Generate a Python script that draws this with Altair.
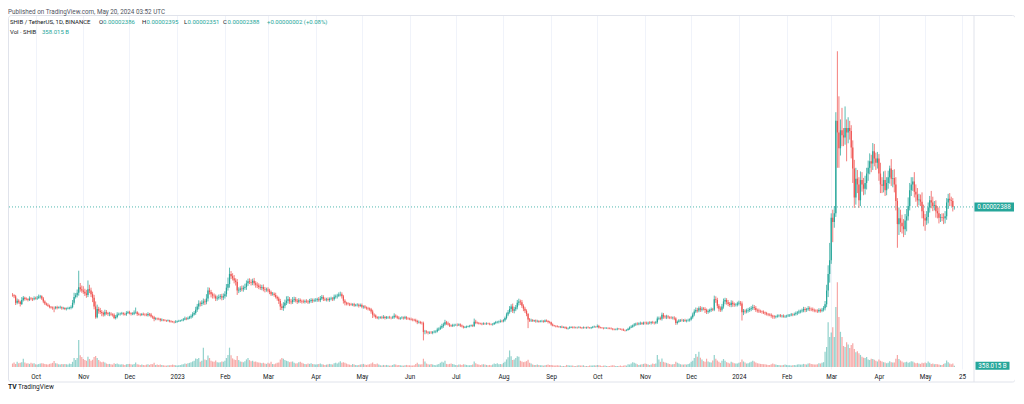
import altair as alt
import pandas as pd

# SHIB / TetherUS, 1D, BINANCE  -- daily candles 2022-09-16 .. 2024-05-20
# prices in units of 1e-8 USDT, volume in billions of SHIB
FIRST_OPEN = 1170

close_2022_09 = [1165, 1150, 1060, 1090, 1075, 1045, 1100, 1130, 1115, 1110, 1100, 1120, 1115, 1110, 1125]
close_2022_10 = [1120, 1130, 1145, 1150, 1120, 1080, 1050, 1035, 1020, 1005, 995, 990, 985, 1000, 990, 995, 1000, 985, 990, 975,
                 980, 985, 990, 1000, 1060, 1140, 1165, 1200, 1275, 1250, 1230]
close_2022_11 = [1215, 1190, 1170, 1250, 1230, 1180, 1130, 1010, 860, 975, 950, 935, 920, 900, 930, 915, 905, 910, 900, 895,
                 850, 865, 900, 905, 910, 915, 905, 900, 920, 930]
close_2022_12 = [915, 905, 910, 925, 930, 905, 900, 895, 905, 900, 895, 890, 905, 900, 870, 860, 835, 845, 840, 835,
                 820, 825, 820, 815, 810, 815, 805, 800, 795, 790, 800]
close_2023_01 = [805, 810, 815, 820, 830, 845, 840, 850, 860, 875, 900, 920, 965, 1010, 1050, 1045, 1060, 1080, 1070, 1120,
                 1230, 1210, 1180, 1160, 1150, 1120, 1130, 1140, 1150, 1135, 1150]
close_2023_02 = [1180, 1270, 1320, 1460, 1430, 1400, 1370, 1350, 1230, 1240, 1260, 1250, 1270, 1280, 1330, 1360, 1350, 1340, 1365, 1330,
                 1310, 1300, 1280, 1270, 1280, 1250, 1240, 1245]
close_2023_03 = [1230, 1210, 1180, 1185, 1170, 1140, 1120, 1085, 1010, 990, 1020, 1060, 1090, 1110, 1080, 1070, 1100, 1110, 1090, 1075,
                 1095, 1085, 1080, 1075, 1085, 1080, 1070, 1085, 1100, 1090, 1095]
close_2023_04 = [1100, 1110, 1095, 1120, 1140, 1115, 1105, 1110, 1100, 1115, 1120, 1110, 1145, 1150, 1160, 1175, 1180, 1150, 1090, 1060,
                 1050, 1045, 1040, 1035, 1040, 1025, 1030, 1035, 1020, 1030]
close_2023_05 = [1005, 1010, 995, 985, 980, 970, 940, 895, 885, 860, 850, 855, 860, 855, 865, 850, 858, 860, 855, 852,
                 860, 880, 870, 855, 845, 850, 855, 848, 860, 845, 840]
close_2023_06 = [835, 830, 825, 820, 810, 790, 795, 785, 780, 655, 660, 655, 648, 650, 645, 655, 660, 665, 690, 700,
                 720, 740, 760, 790, 775, 760, 745, 740, 750, 755]
close_2023_07 = [755, 750, 760, 745, 735, 720, 725, 730, 735, 740, 745, 740, 800, 785, 780, 775, 770, 765, 775, 770,
                 775, 770, 765, 760, 765, 780, 790, 795, 800, 810, 805]
close_2023_08 = [820, 850, 900, 930, 975, 1010, 950, 970, 1000, 1060, 1080, 1070, 1020, 980, 950, 905, 830, 815, 820, 810,
                 815, 805, 810, 800, 805, 810, 800, 815, 810, 795, 790]
close_2023_09 = [760, 745, 740, 735, 730, 725, 730, 720, 725, 715, 705, 710, 720, 725, 720, 715, 720, 718, 722, 715,
                 712, 718, 715, 720, 715, 712, 718, 725, 730, 728]
close_2023_10 = [740, 720, 715, 712, 708, 710, 712, 710, 705, 700, 695, 690, 695, 700, 698, 695, 690, 680, 678, 685,
                 700, 720, 730, 745, 760, 770, 765, 775, 780, 770, 785]
close_2023_11 = [780, 775, 785, 780, 790, 785, 780, 790, 845, 850, 840, 895, 870, 860, 870, 860, 855, 850, 855, 845,
                 780, 800, 815, 820, 815, 820, 810, 815, 820, 830]
close_2023_12 = [860, 900, 940, 960, 955, 985, 965, 980, 975, 960, 935, 945, 960, 970, 965, 1110, 1100, 1020, 980, 965,
                 1010, 1080, 1100, 1070, 1045, 1030, 1060, 1040, 1030, 1035, 1050]
close_2024_01 = [1060, 1050, 930, 950, 940, 955, 960, 975, 985, 1000, 990, 960, 955, 945, 940, 935, 925, 915, 905, 900,
                 895, 880, 870, 865, 870, 880, 885, 875, 880, 870, 875]
close_2024_02 = [880, 885, 890, 900, 895, 905, 915, 925, 940, 945, 955, 975, 960, 970, 985, 975, 970, 960, 955, 950,
                 945, 960, 950, 965, 985, 1040, 1230, 1460, 1650]
close_2024_03 = [2240, 2180, 2300, 3580, 3420, 3200, 3450, 3380, 3350, 3480, 3420, 3480, 3440, 3210, 2920, 2520, 2780, 2700, 2480, 2760,
                 2700, 2640, 2720, 2850, 2930, 3020, 2990, 3160, 3060, 3000, 3060]
close_2024_04 = [2850, 2700, 2680, 2760, 2620, 2720, 2800, 2920, 2780, 2790, 2700, 2470, 2150, 2230, 2170, 2120, 2080, 2200, 2260, 2400,
                 2620, 2700, 2740, 2600, 2560, 2480, 2490, 2460, 2330, 2230]
close_2024_05 = [2200, 2250, 2380, 2480, 2450, 2400, 2410, 2330, 2300, 2240, 2250, 2240, 2230, 2260, 2450, 2500, 2480, 2470, 2386, 2388]

# upper wick above max(open, close) and lower wick below min(open, close), same units
upw_2022_09 = [25, 15, 20, 30, 20, 15, 40, 25, 15, 20, 15, 30, 20, 15, 25]
low_2022_09 = [20, 25, 30, 20, 25, 35, 15, 20, 25, 15, 20, 15, 20, 25, 15]
upw_2022_10 = [20, 25, 30, 20, 15, 20, 15, 15, 20, 15, 10, 15, 20, 15, 20, 15, 20, 10, 15, 10, 15, 20, 15, 25, 40, 60, 30, 45, 230, 60, 50]
low_2022_10 = [15, 20, 15, 25, 20, 25, 20, 15, 15, 20, 15, 25, 55, 15, 20, 10, 15, 20, 15, 15, 20, 10, 15, 20, 15, 25, 20, 30, 40, 35, 30]
upw_2022_11 = [60, 40, 50, 120, 60, 40, 35, 40, 70, 60, 30, 40, 25, 20, 35, 30, 20, 25, 20, 15, 20, 25, 30, 20, 15, 20, 15, 20, 25, 20]
low_2022_11 = [30, 35, 40, 30, 35, 40, 60, 40, 20, 15, 40, 30, 45, 30, 25, 20, 25, 30, 20, 25, 15, 20, 20, 15, 20, 15, 20, 15, 20, 15]
upw_2022_12 = [20, 15, 20, 30, 65, 15, 20, 15, 15, 20, 15, 20, 25, 15, 20, 15, 20, 15, 10, 15, 15, 20, 10, 15, 10, 15, 10, 15, 10, 15, 20]
low_2022_12 = [15, 20, 15, 20, 15, 25, 15, 20, 15, 15, 20, 15, 20, 25, 15, 20, 30, 15, 20, 15, 20, 15, 15, 10, 15, 10, 15, 15, 10, 15, 10]
upw_2023_01 = [10, 15, 10, 15, 20, 25, 15, 20, 20, 25, 30, 25, 40, 35, 45, 30, 35, 40, 30, 60, 45, 40, 30, 25, 30, 25, 30, 35, 30, 35, 40]
low_2023_01 = [15, 10, 15, 10, 15, 10, 20, 15, 15, 20, 20, 15, 25, 30, 40, 35, 30, 25, 40, 30, 40, 35, 45, 40, 30, 35, 30, 25, 30, 40, 35]
upw_2023_02 = [40, 50, 90, 87, 40, 40, 45, 30, 40, 35, 30, 40, 30, 45, 40, 35, 40, 35, 30, 40, 30, 35, 30, 35, 30, 35, 30, 25]
low_2023_02 = [30, 35, 40, 50, 40, 30, 40, 50, 60, 35, 30, 30, 35, 30, 40, 35, 30, 40, 35, 30, 40, 35, 30, 30, 35, 30, 35, 25]
upw_2023_03 = [30, 25, 20, 25, 20, 30, 20, 25, 30, 40, 50, 45, 60, 45, 30, 35, 40, 35, 30, 25, 30, 25, 20, 25, 20, 25, 20, 30, 25, 20, 25]
low_2023_03 = [25, 30, 25, 20, 25, 20, 30, 40, 50, 30, 40, 35, 30, 40, 35, 30, 25, 30, 25, 30, 20, 25, 30, 20, 25, 20, 25, 20, 25, 30, 20]
upw_2023_04 = [25, 20, 30, 35, 30, 25, 20, 20, 25, 20, 25, 20, 30, 25, 25, 30, 35, 25, 20, 20, 15, 20, 15, 20, 15, 20, 15, 20, 15, 20]
low_2023_04 = [20, 25, 20, 25, 20, 30, 20, 25, 20, 25, 20, 25, 20, 25, 30, 20, 25, 30, 40, 35, 25, 20, 25, 15, 20, 20, 15, 20, 25, 15]
upw_2023_05 = [20, 15, 20, 15, 20, 15, 20, 25, 20, 15, 15, 20, 15, 20, 25, 15, 20, 15, 20, 15, 20, 35, 20, 15, 20, 15, 20, 15, 20, 15, 15]
low_2023_05 = [20, 25, 15, 20, 25, 20, 30, 45, 25, 20, 15, 20, 15, 20, 15, 20, 15, 20, 15, 20, 15, 20, 15, 20, 15, 20, 15, 20, 15, 20, 15]
upw_2023_06 = [15, 20, 15, 15, 20, 15, 20, 15, 15, 20, 25, 20, 15, 15, 20, 15, 20, 15, 25, 20, 25, 30, 25, 35, 20, 25, 20, 15, 20, 15]
low_2023_06 = [15, 15, 20, 15, 20, 25, 15, 20, 20, 115, 30, 20, 25, 20, 15, 20, 15, 20, 15, 20, 15, 20, 25, 15, 20, 15, 20, 15, 15, 20]
upw_2023_07 = [15, 20, 15, 15, 15, 10, 15, 15, 10, 15, 15, 15, 42, 25, 15, 15, 10, 15, 15, 10, 15, 10, 15, 10, 15, 15, 20, 15, 15, 20, 15]
low_2023_07 = [15, 15, 10, 20, 15, 15, 10, 15, 10, 15, 10, 15, 15, 20, 15, 15, 10, 15, 10, 15, 15, 10, 15, 10, 15, 10, 15, 15, 20, 15, 15]
upw_2023_08 = [15, 20, 25, 30, 40, 30, 40, 35, 30, 40, 38, 25, 30, 20, 25, 20, 15, 20, 20, 15, 10, 15, 15, 10, 15, 15, 10, 15, 15, 10, 15]
low_2023_08 = [15, 20, 20, 25, 20, 40, 30, 35, 25, 30, 35, 40, 30, 35, 30, 30, 120, 20, 20, 15, 15, 20, 15, 15, 10, 15, 15, 10, 15, 20, 15]
upw_2023_09 = [10, 15, 10, 10, 15, 10, 10, 15, 10, 10, 15, 10, 15, 10, 10, 15, 10, 10, 15, 10, 10, 15, 10, 10, 15, 10, 10, 15, 15, 10]
low_2023_09 = [15, 10, 10, 15, 10, 10, 15, 10, 10, 15, 10, 15, 10, 10, 15, 10, 10, 15, 10, 10, 15, 10, 10, 15, 10, 10, 15, 10, 10, 15]
upw_2023_10 = [20, 15, 10, 10, 10, 15, 10, 10, 10, 15, 10, 10, 10, 15, 10, 10, 10, 15, 10, 10, 15, 15, 20, 15, 20, 15, 20, 15, 20, 15, 15]
low_2023_10 = [10, 15, 10, 10, 15, 10, 10, 15, 10, 10, 15, 10, 10, 15, 10, 10, 15, 10, 15, 10, 10, 15, 10, 15, 15, 20, 15, 15, 20, 15, 15]
upw_2023_11 = [15, 20, 15, 20, 15, 20, 15, 20, 25, 20, 20, 30, 25, 20, 25, 20, 15, 20, 15, 20, 15, 15, 20, 15, 20, 15, 20, 15, 20, 15]
low_2023_11 = [20, 15, 20, 15, 20, 15, 20, 15, 20, 25, 20, 25, 30, 20, 25, 20, 20, 15, 20, 25, 25, 20, 15, 20, 15, 20, 15, 20, 15, 20]
upw_2023_12 = [20, 25, 30, 35, 30, 25, 30, 25, 20, 25, 20, 25, 20, 25, 20, 50, 40, 30, 25, 30, 35, 40, 30, 25, 30, 25, 35, 30, 25, 20, 25]
low_2023_12 = [15, 20, 25, 20, 30, 25, 30, 25, 20, 40, 30, 25, 20, 25, 20, 20, 40, 35, 40, 30, 25, 30, 40, 35, 30, 25, 30, 35, 25, 20, 25]
upw_2024_01 = [30, 25, 30, 25, 20, 25, 30, 25, 30, 35, 30, 25, 20, 25, 20, 15, 20, 15, 20, 15, 15, 20, 15, 20, 15, 20, 15, 20, 15, 20, 15]
low_2024_01 = [25, 30, 115, 40, 30, 25, 30, 25, 30, 25, 30, 25, 30, 25, 20, 25, 20, 25, 20, 25, 20, 25, 30, 25, 20, 15, 20, 15, 20, 15, 20]
upw_2024_02 = [15, 20, 15, 20, 15, 20, 25, 20, 25, 20, 25, 30, 25, 20, 30, 25, 20, 25, 20, 15, 20, 25, 20, 25, 30, 45, 80, 120, 240]
low_2024_02 = [20, 15, 20, 15, 20, 15, 20, 25, 20, 25, 20, 25, 30, 25, 20, 30, 25, 20, 25, 20, 25, 20, 25, 20, 25, 30, 40, 90, 120]
upw_2024_03 = [60, 110, 100, 120, 964, 500, 150, 310, 100, 300, 120, 150, 100, 80, 100, 120, 150, 120, 100, 120,
               110, 90, 100, 80, 100, 110, 90, 113, 100, 80, 90]
low_2024_03 = [50, 280, 80, 50, 490, 270, 100, 150, 120, 100, 400, 150, 120, 150, 200, 145, 100, 120, 105, 80,
               100, 90, 80, 90, 100, 90, 120, 90, 110, 100, 80]
upw_2024_04 = [60, 150, 100, 120, 130, 80, 90, 40, 130, 110, 120, 100, 40, 150, 120, 110, 100, 90, 100, 120,
               100, 100, 60, 130, 100, 90, 80, 70, 130, 90]
low_2024_04 = [100, 120, 100, 90, 80, 70, 80, 90, 100, 120, 110, 130, 327, 150, 130, 100, 110, 80, 150, 60,
               60, 80, 90, 80, 100, 90, 70, 60, 100, 110]
upw_2024_05 = [60, 80, 70, 60, 130, 80, 60, 70, 70, 80, 40, 50, 60, 70, 60, 70, 80, 50, 40, 7]
low_2024_05 = [142, 60, 90, 70, 80, 70, 60, 90, 70, 80, 60, 50, 80, 70, 50, 90, 80, 70, 60, 35]

# volume, billions of SHIB
vol_2022_09 = [1000, 1300, 900, 1500, 1100, 1200, 1400, 2400, 1300, 1000, 1100, 900, 1200, 1000, 1100]
vol_2022_10 = [800, 700, 900, 1000, 1100, 1000, 900, 800, 700, 900, 1000, 1200, 1750, 1100, 1000, 800, 700, 900, 800, 900,
               800, 700, 1000, 900, 1500, 2600, 2000, 2600, 7800, 3400, 2900]
vol_2022_11 = [2300, 2000, 1800, 3000, 2300, 1800, 2100, 2900, 3200, 2600, 2000, 1600, 1400, 1500, 1300, 1000, 900, 900, 800, 700,
               1100, 900, 1000, 800, 700, 800, 700, 600, 800, 900]
vol_2022_12 = [900, 800, 700, 900, 1300, 800, 700, 600, 700, 600, 500, 700, 800, 600, 900, 800, 1200, 600, 700, 600,
               700, 600, 500, 400, 400, 500, 500, 600, 700, 600, 500]
vol_2023_01 = [400, 500, 600, 700, 800, 1000, 900, 1100, 1200, 1400, 1600, 1800, 2500, 2300, 2600, 1500, 1800, 5600, 2200, 2000,
               3300, 2600, 1800, 1600, 1500, 1900, 1400, 1300, 1400, 1600, 1500]
vol_2023_02 = [1800, 2600, 3500, 5600, 3400, 2500, 2200, 2000, 3200, 2000, 1600, 1500, 1400, 1700, 2200, 2600, 2000, 1700, 1800, 1500,
               1600, 1400, 1300, 1200, 1100, 1200, 1000, 900]
vol_2023_03 = [1200, 1000, 1500, 900, 800, 1000, 1200, 1300, 2200, 2600, 2400, 2000, 1800, 1700, 1400, 1500, 1600, 1200, 1000, 1100,
               1400, 1500, 1200, 1000, 900, 800, 1000, 900, 1100, 900, 800]
vol_2023_04 = [700, 800, 900, 1000, 800, 700, 600, 700, 800, 900, 800, 700, 1100, 1200, 1000, 1300, 1700, 1200, 1400, 1200,
               1000, 800, 700, 600, 900, 700, 600, 500, 600, 700]
vol_2023_05 = [800, 900, 700, 600, 700, 800, 1000, 1300, 900, 800, 1000, 700, 500, 400, 600, 500, 600, 500, 400, 400,
               600, 800, 700, 500, 600, 500, 400, 400, 500, 600, 500]
vol_2023_06 = [500, 400, 400, 500, 900, 1200, 800, 700, 800, 2400, 1600, 1000, 800, 700, 900, 700, 600, 500, 700, 900,
               1200, 1500, 1300, 1800, 900, 800, 900, 1000, 900, 700]
vol_2023_07 = [600, 500, 700, 700, 600, 800, 700, 600, 500, 500, 600, 700, 1600, 1100, 800, 700, 600, 700, 800, 700,
               600, 500, 600, 500, 700, 1000, 900, 1100, 800, 900, 800]
vol_2023_08 = [1200, 1500, 2200, 2800, 4800, 3100, 2000, 2200, 2600, 3100, 3000, 1800, 1600, 1400, 1500, 1700, 2100, 1200, 1000, 700,
               600, 600, 700, 600, 500, 500, 400, 500, 600, 700, 600]
vol_2023_09 = [600, 500, 400, 400, 500, 400, 400, 300, 300, 300, 600, 500, 400, 400, 400, 300, 300, 400, 500, 400,
               400, 500, 300, 300, 300, 400, 400, 400, 500, 400]
vol_2023_10 = [600, 500, 400, 300, 400, 400, 300, 300, 300, 400, 500, 400, 300, 300, 300, 400, 300, 400, 500, 400,
               800, 700, 1000, 1400, 1200, 1000, 800, 600, 700, 800, 900]
vol_2023_11 = [1000, 900, 700, 600, 700, 1000, 900, 1000, 3500, 2200, 1500, 2500, 1500, 1300, 1200, 1000, 900, 700, 800, 900,
               1500, 1200, 1000, 800, 700, 700, 800, 700, 900, 1000]
vol_2023_12 = [1500, 1800, 2600, 3800, 3000, 4400, 2700, 2200, 1700, 1500, 2400, 1600, 1400, 1300, 1900, 3500, 2400, 1900, 1500, 1200,
               1800, 2300, 1800, 1400, 1200, 1000, 1500, 1300, 1100, 1000, 1000]
vol_2024_01 = [1200, 1400, 2200, 1600, 1300, 1000, 1100, 1300, 1500, 1800, 1600, 1300, 1100, 1000, 900, 900, 800, 800, 700, 600,
               600, 800, 1000, 800, 700, 600, 600, 500, 500, 600, 700]
vol_2024_02 = [600, 500, 500, 400, 500, 600, 500, 700, 800, 700, 700, 900, 800, 700, 1000, 1100, 900, 800, 700, 700,
               800, 1100, 1000, 1200, 1400, 4400, 5800, 13000, 8700]
vol_2024_03 = [10000, 11500, 8700, 17400, 24600, 14500, 10200, 8700, 6100, 5800, 7200, 6500, 5500, 6400, 6900, 5200, 4300, 4600, 4000, 3500,
               3000, 2700, 2600, 2900, 2200, 2000, 2400, 2300, 2100, 1800, 1600]
vol_2024_04 = [2200, 1800, 1600, 1400, 1300, 1100, 1200, 1700, 1400, 1300, 1300, 2400, 3500, 2300, 1900, 1600, 1300, 1400, 1500, 1200,
               1400, 1700, 1600, 1300, 1100, 1200, 1000, 900, 1200, 1100]
vol_2024_05 = [1300, 1100, 1600, 1200, 900, 1000, 800, 900, 800, 700, 600, 600, 900, 1100, 1900, 1400, 1000, 800, 1000, 358.015]

price_ticks = [500, 1000, 1500, 2000, 2500, 3000, 3500, 4000, 4500, 5000]

# ---------------------------------------------------------------------------
keys = ["2022_09", "2022_10", "2022_11", "2022_12", "2023_01", "2023_02", "2023_03", "2023_04",
        "2023_05", "2023_06", "2023_07", "2023_08", "2023_09", "2023_10", "2023_11", "2023_12",
        "2024_01", "2024_02", "2024_03", "2024_04", "2024_05"]
g = globals()
closes, upw, loww, vols = [], [], [], []
for k in keys:
    c, u, l, v = g["close_" + k], g["upw_" + k], g["low_" + k], g["vol_" + k]
    assert len(c) == len(u) == len(l) == len(v), (k, len(c), len(u), len(l), len(v))
    closes += c; upw += u; loww += l; vols += v
n = len(closes)
assert n == 613, n

SC = 1e-8
opens = [FIRST_OPEN] + closes[:-1]
dates = pd.date_range("2022-09-16", periods=n, freq="D").strftime("%Y-%m-%dT00:00:00Z")
df = pd.DataFrame({
    "date": list(dates),
    "open": [o * SC for o in opens],
    "close": [c * SC for c in closes],
    "high": [(max(o, c) + u) * SC for o, c, u in zip(opens, closes, upw)],
    "low": [(min(o, c) - l) * SC for o, c, l in zip(opens, closes, loww)],
    "volume": vols,
    "dir": ["up" if c >= o else "down" for o, c in zip(opens, closes)],
})

UP, DOWN = "#26a69a", "#ef5350"
TXT = "#131722"
GRID = "#f0f3fa"
FONT = "Roboto"
FS = 6.3
LFS = 6.0
W, H = 965, 354

x_scale = alt.Scale(type="utc",
                    domain=[alt.DateTime(year=2022, month=9, date=16, hours=7, minutes=12, utc=True),
                            alt.DateTime(year=2024, month=5, date=28, hours=21, minutes=7, utc=True)])
x_vals = [alt.DateTime(year=y, month=m, date=1, utc=True) for (y, m) in
          [(2022, 10), (2022, 11), (2022, 12), (2023, 1), (2023, 2), (2023, 3), (2023, 4), (2023, 5), (2023, 6),
           (2023, 7), (2023, 8), (2023, 9), (2023, 10), (2023, 11), (2023, 12), (2024, 1), (2024, 2), (2024, 3),
           (2024, 4), (2024, 5)]] + [alt.DateTime(year=2024, month=5, date=25, utc=True)]
x_axis = alt.Axis(values=x_vals, title=None, domain=False, ticks=False, grid=True, gridColor=GRID,
                  labelFont=FONT, labelFontSize=FS, labelColor=TXT, labelPadding=4.5,
                  labelExpr="utcmonth(datum.value)==0 ? utcFormat(datum.value,'%Y') : "
                            "(utcdate(datum.value)==1 ? utcFormat(datum.value,'%b') : utcFormat(datum.value,'%d'))")
x_enc = alt.X("date:T", scale=x_scale, axis=x_axis)

price_scale = alt.Scale(domain=[144 * SC, 5046 * SC], zero=False, nice=False)
price_axis = alt.Axis(orient="right", values=[v * SC for v in price_ticks], title=None, domain=False, ticks=False,
                      grid=True, gridColor=GRID, labelFont=FONT, labelFontSize=FS, labelColor=TXT, labelPadding=6,
                      labelExpr="format(datum.value, '.8f')")
color_enc = alt.Color("dir:N", scale=alt.Scale(domain=["up", "down"], range=[UP, DOWN]), legend=None)

base = alt.Chart(df)
wicks = base.mark_rule(strokeWidth=0.75, clip=True).encode(
    x=x_enc, y=alt.Y("low:Q", scale=price_scale, axis=price_axis), y2="high:Q", color=color_enc)
bodies = base.mark_bar(size=1.25, clip=True).encode(
    x="date:T", y=alt.Y("open:Q", scale=price_scale, axis=None), y2="close:Q", color=color_enc)

last = pd.DataFrame({"p": [closes[-1] * SC], "v": [vols[-1]]})
price_line = alt.Chart(last).mark_rule(strokeDash=[1, 2], color=UP, strokeWidth=0.8).encode(
    y=alt.Y("p:Q", scale=price_scale, axis=None))
price_box = alt.Chart(last).mark_point(shape="M -1 -0.225 L 1 -0.225 L 1 0.225 L -1 0.225 Z", size=1600,
                                       filled=True, opacity=1, color=UP, strokeWidth=0).encode(
    x=alt.value(986), y=alt.Y("p:Q", scale=price_scale, axis=None))
price_txt = alt.Chart(last).mark_text(text="0.00002388", color="white", font=FONT, fontSize=FS,
                                      align="center", baseline="middle").encode(
    x=alt.value(986), y=alt.Y("p:Q", scale=price_scale, axis=None))
price_group = alt.layer(wicks, bodies, price_line, price_box, price_txt)

vol_scale = alt.Scale(domain=[-580, 102080], zero=False, nice=False)
vol_bars = base.mark_bar(size=1.2, opacity=0.5, clip=True).encode(
    x="date:T", y=alt.Y("volume:Q", scale=vol_scale, axis=None), y2=alt.datum(0), color=color_enc)
vol_box = alt.Chart(last).mark_point(shape="M -1 -0.235 L 1 -0.235 L 1 0.235 L -1 0.235 Z", size=1156,
                                     filled=True, opacity=1, color=UP, strokeWidth=0).encode(
    x=alt.value(984.5), y=alt.Y("v:Q", scale=vol_scale, axis=None))
vol_txt = alt.Chart(last).mark_text(text="358.015 B", color="white", font=FONT, fontSize=FS,
                                    align="center", baseline="middle").encode(
    x=alt.value(984.5), y=alt.Y("v:Q", scale=vol_scale, axis=None))
vol_group = alt.layer(vol_bars, vol_box, vol_txt)

one = pd.DataFrame({"k": [0]})


def txt(s, x, y, color=TXT, size=FS, weight="normal", baseline="middle"):
    return alt.Chart(one).mark_text(text=s, align="left", baseline=baseline, font=FONT, fontSize=size,
                                    color=color, fontWeight=weight).encode(x=alt.value(x), y=alt.value(y))


frame = alt.Chart(one).mark_rect(fillOpacity=0, stroke="#e0e3eb", strokeWidth=1, cornerRadius=3).encode(
    x=alt.value(0.5), x2=alt.value(1007.5), y=alt.value(0.5), y2=alt.value(367))
sep = alt.Chart(one).mark_rule(color="#e0e3eb", strokeWidth=1).encode(
    x=alt.value(966), y=alt.value(0.5), y2=alt.value(367))

texts = [
    txt("Published on TradingView.com, May 20, 2024 03:52 UTC", 0, -3.5, color="#50535e"),
    txt("SHIB / TetherUS, 1D, BINANCE", 2, 7, size=LFS),
    txt("O", 91, 7, size=LFS), txt("0.00002386", 95, 7, color=UP, size=LFS),
    txt("H", 134, 7, size=LFS), txt("0.00002395", 138.5, 7, color=UP, size=LFS),
    txt("L", 176, 7, size=LFS), txt("0.00002351", 179.5, 7, color=UP, size=LFS),
    txt("C", 215, 7, size=LFS), txt("0.00002388", 219.5, 7, color=UP, size=LFS),
    txt("+0.00000002 (+0.08%)", 259, 7, color=UP, size=LFS),
    txt("Vol · SHIB", 2, 17, size=LFS), txt("358.015 B", 34, 17, color=UP, size=LFS),
    txt("TV", 0, 374, size=6.8, weight="bold", baseline="alphabetic"),
    txt("TradingView", 10, 374, size=6.5, baseline="alphabetic"),
]

chart = alt.layer(vol_group, price_group, frame, sep, *texts).resolve_scale(y="independent").properties(
    width=W, height=H,
    autosize=alt.AutoSizeParams(type="none"),
    padding={"left": 0, "top": 7, "right": 42, "bottom": 23},
    background="white",
).configure_view(stroke=None)

chart.save("out.html", embed_options={"renderer": "svg", "actions": False})
